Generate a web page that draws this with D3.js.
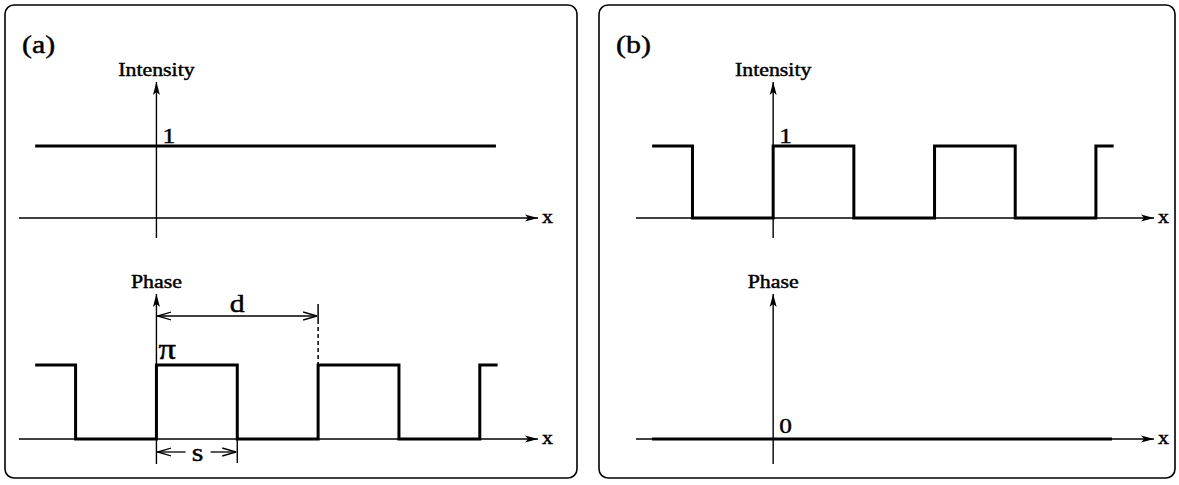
<!DOCTYPE html>
<html>
<head>
<meta charset="utf-8">
<script src="https://cdn.jsdelivr.net/npm/d3@7"></script>
<style>
  body { margin: 0; background: #fff; }
  text { font-family: "Liberation Serif", "Times New Roman", serif; fill: #000; stroke: #000; stroke-width: 0.45; }
</style>
</head>
<body>
<div id="graph"></div>
<script>
const width = 1179;
const height = 485;

// data, in units of s (x) and of the level (0 / 1 or 0 / pi)
const edgesX = [-1.5, -1, 0, 1, 2, 3, 4, 4.22];
const squareLevels = [1, 0, 1, 0, 1, 0, 1, 1];
const flatX = [-1.5, 4.2];
const intensityA = [1, 1];
const phaseB = [0, 0];
const panelNames = ["(a)", "(b)"];
const topTick = ["1", "1"];
const bottomTick = ["\u03c0", "0"];

const square = edgesX.map((x, i) => ({ x: x, v: squareLevels[i] }));

const panels = [
  { name: panelNames[0], left: 5, right: 577, xr: [19, 538],
    top: flatX.map((x, i) => ({ x: x, v: intensityA[i] })), bottom: square,
    topLabel: topTick[0], bottomLabel: bottomTick[0], dims: true },
  { name: panelNames[1], left: 599, right: 1175, xr: [636, 1154],
    top: square, bottom: flatX.map((x, i) => ({ x: x, v: phaseB[i] })),
    topLabel: topTick[1], bottomLabel: bottomTick[1], dims: false }
];

const yTop = d3.scaleLinear().domain([0, 1]).range([218, 146]);
const yBot = d3.scaleLinear().domain([0, 1]).range([439, 365]);

const svg = d3.select("#graph").append("svg")
  .attr("width", width).attr("height", height);

const defs = svg.append("defs");
defs.append("marker")
  .attr("id", "head")
  .attr("viewBox", "0 0 13 8")
  .attr("refX", 13).attr("refY", 4)
  .attr("markerWidth", 13).attr("markerHeight", 8)
  .attr("markerUnits", "userSpaceOnUse")
  .attr("orient", "auto")
  .append("path").attr("d", "M0,0.5 L13,4 L0,7.5 L3,4 Z").attr("fill", "#000");
defs.append("marker")
  .attr("id", "open")
  .attr("viewBox", "0 0 14 10")
  .attr("refX", 14).attr("refY", 5)
  .attr("markerWidth", 14).attr("markerHeight", 10)
  .attr("markerUnits", "userSpaceOnUse")
  .attr("orient", "auto-start-reverse")
  .append("path").attr("d", "M0,1 L14,5 L0,9").attr("fill", "none")
  .attr("stroke", "#000").attr("stroke-width", 1.4);

function label(g, x, y, txt, size, anchor) {
  g.append("text")
    .attr("transform", "translate(" + x + "," + y + ") scale(1.15,1)")
    .attr("font-size", size)
    .attr("text-anchor", anchor || "start")
    .text(txt);
}

panels.forEach(function(p) {
  const g = svg.append("g");
  const x = d3.scaleLinear().domain([-1.7, 4.72]).range(p.xr);
  const x0 = x(0);

  g.append("rect")
    .attr("x", p.left).attr("y", 5)
    .attr("width", p.right - p.left).attr("height", 473)
    .attr("rx", 9).attr("fill", "none")
    .attr("stroke", "#000").attr("stroke-width", 1.6);

  label(g, p.left + 17, 53, p.name, 26);

  [yTop, yBot].forEach(function(y, k) {
    // x axis
    g.append("line")
      .attr("x1", x(-1.7)).attr("x2", x(4.72))
      .attr("y1", y(0)).attr("y2", y(0))
      .attr("stroke", "#000").attr("stroke-width", 1.4)
      .attr("marker-end", "url(#head)");
    label(g, x(4.72) + 4, y(0) + 5, "x", 19);
    // vertical axis
    const yb = k === 0 ? 238 : 464;
    const yt = k === 0 ? 82 : 294;
    g.append("line")
      .attr("x1", x0).attr("x2", x0)
      .attr("y1", yb).attr("y2", yt)
      .attr("stroke", "#000").attr("stroke-width", 1.4)
      .attr("marker-end", "url(#head)");
    label(g, x0, yt - 6, k === 0 ? "Intensity" : "Phase", 19, "middle");
  });

  const lineTop = d3.line().x(d => x(d.x)).y(d => yTop(d.v)).curve(d3.curveStepAfter);
  const lineBot = d3.line().x(d => x(d.x)).y(d => yBot(d.v)).curve(d3.curveStepAfter);

  g.append("path").datum(p.top).attr("d", lineTop)
    .attr("fill", "none").attr("stroke", "#000").attr("stroke-width", 3);
  g.append("path").datum(p.bottom).attr("d", lineBot)
    .attr("fill", "none").attr("stroke", "#000").attr("stroke-width", 3);

  label(g, x0 + 6, yTop(1) - 3, p.topLabel, 22);
  if (p.dims) {
    label(g, x0 + 2, yBot(1) - 6, p.bottomLabel, 30);
  } else {
    label(g, x0 + 6, yBot(0) - 6, p.bottomLabel, 22);
  }

  if (p.dims) {
    // period d
    const yd = 316;
    g.append("line")
      .attr("x1", x(0) + 1).attr("x2", x(2) - 1)
      .attr("y1", yd).attr("y2", yd)
      .attr("stroke", "#000").attr("stroke-width", 1.3)
      .attr("marker-start", "url(#open)").attr("marker-end", "url(#open)");
    g.append("line")
      .attr("x1", x(2)).attr("x2", x(2))
      .attr("y1", 304).attr("y2", 320)
      .attr("stroke", "#000").attr("stroke-width", 1.5);
    g.append("line")
      .attr("x1", x(2)).attr("x2", x(2))
      .attr("y1", 320).attr("y2", yBot(1))
      .attr("stroke", "#000").attr("stroke-width", 1.5)
      .attr("stroke-dasharray", "4,3");
    label(g, x(1), yd - 4, "d", 26, "middle");

    // width s
    const ys = 452;
    g.append("line")
      .attr("x1", x(1)).attr("x2", x(1))
      .attr("y1", yBot(0)).attr("y2", 463)
      .attr("stroke", "#000").attr("stroke-width", 1.4);
    g.append("line")
      .attr("x1", x(0.36)).attr("x2", x(0) + 1)
      .attr("y1", ys).attr("y2", ys)
      .attr("stroke", "#000").attr("stroke-width", 1.3)
      .attr("marker-end", "url(#open)");
    g.append("line")
      .attr("x1", x(0.67)).attr("x2", x(1) - 1)
      .attr("y1", ys).attr("y2", ys)
      .attr("stroke", "#000").attr("stroke-width", 1.3)
      .attr("marker-end", "url(#open)");
    label(g, x(0.51), ys + 9, "s", 26, "middle");
  }
});
</script>
</body>
</html>
